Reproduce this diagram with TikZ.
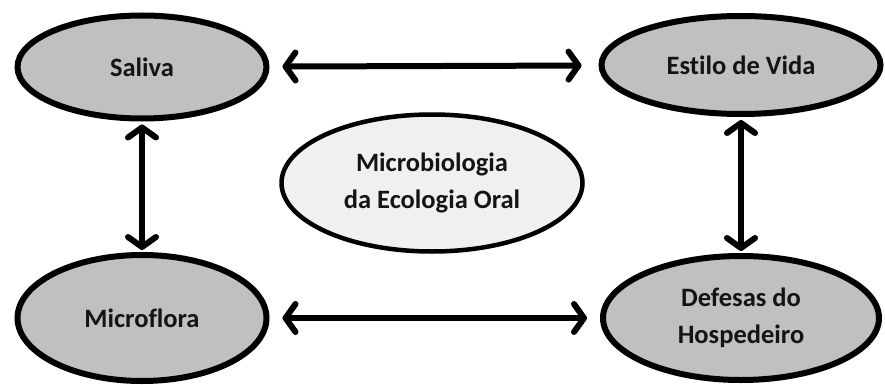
\documentclass[tikz,border=0pt]{standalone}
\usepackage{fontspec}
\setmainfont{Carlito}[Ligatures=NoCommon]
\definecolor{OvalGray}{RGB}{192, 192, 192}
\definecolor{CoreGray}{RGB}{240, 240, 240}
\definecolor{InkBlack}{RGB}{20, 20, 20}
\usetikzlibrary{arrows.meta, positioning, shapes.geometric}

\begin{document}
\begin{tikzpicture}[
            x=1pt, y=-1pt,
            oval/.style={ellipse, draw=black, fill=OvalGray, line width=6pt, inner sep=0pt,
                         align=center, text=InkBlack, font=\fontsize{26.5}{37}\selectfont\bfseries},
            core/.style={oval, fill=CoreGray, line width=4.5pt},
            arrow/.style={{Straight Barb[round, length=10pt, width=28pt]}-{Straight Barb[round, length=10pt, width=28pt]},
                          line width=6pt, black}
        ]
            \useasboundingbox (0,0) rectangle (885,385);

            % Centre
            \node[core, minimum width=301pt, minimum height=137pt] (core) at (432,183)
                {Microbiologia\\da Ecologia Oral};

            % Row 1
            \node[oval, minimum width=249pt, minimum height=103pt] (saliva) at (142,67) {Saliva};
            \node[oval, minimum width=279pt, minimum height=98pt] (estilo) at (741,65) {Estilo de Vida};

            % Row 2
            \node[oval, minimum width=249pt, minimum height=126pt] (micro) at (142,318) {Microflora};
            \node[oval, minimum width=276pt, minimum height=124pt] (defesas) at (741,318) {Defesas do\\Hospedeiro};

            % Arrows
            \draw[arrow, shorten <=13pt, shorten >=17pt] (saliva) -- (estilo);
            \draw[arrow, shorten <=13pt, shorten >=13pt] (micro) -- (defesas);
            \draw[arrow, shorten <=3pt, shorten >=2pt] (saliva) -- (micro);
            \draw[arrow, shorten <=3pt, shorten >=2pt] (estilo) -- (defesas);
        \end{tikzpicture}
\end{document}
